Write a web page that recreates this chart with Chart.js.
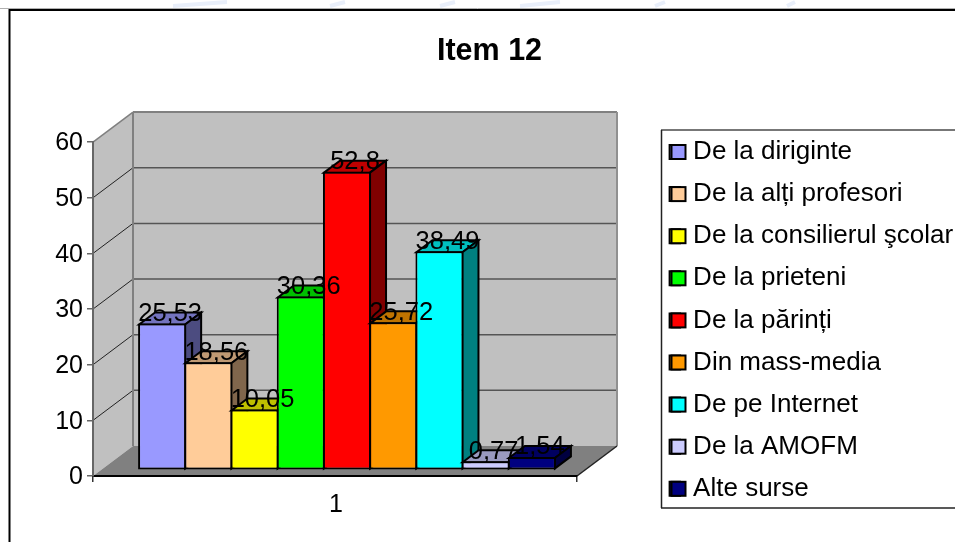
<!DOCTYPE html>
<html>
<head>
<meta charset="utf-8">
<title>Item 12</title>
<script src="https://cdn.jsdelivr.net/npm/chart.js@4"></script>
<style>
    html, body { margin: 0; padding: 0; background: #fff; overflow: hidden; }
    canvas { display: block; }
</style>
</head>
<body>
<canvas id="chart-item12" width="955" height="542"></canvas>
<script>
'use strict';

var categories = ['1'];
var seriesNames = ['De la diriginte', 'De la alți profesori', 'De la consilierul şcolar', 'De la prieteni',
    'De la părinți', 'Din mass-media', 'De pe Internet', 'De la AMOFM', 'Alte surse'];
var seriesValues = [25.53, 18.56, 10.05, 30.36, 52.8, 25.72, 38.49, 0.77, 1.54];
var frontColors = ['#9999FF', '#FFCC99', '#FFFF00', '#00FF00', '#FF0000', '#FF9900', '#00FFFF', '#CCCCFF', '#000080'];
var topColors = ['#7373BF', '#BF9973', '#BFBF00', '#00BF00', '#BF0000', '#BF7300', '#00BFBF', '#9999BF', '#000060'];
var sideColors = ['#4C4C80', '#80664C', '#808000', '#008000', '#800000', '#804C00', '#008080', '#666680', '#000040'];

var FONT = '"Liberation Sans", Arial, sans-serif';
var WALL_DX = 40, WALL_DY = -30;   // front plane to back wall
var BAR_DX = 12, BAR_DY = -10.5;   // front plane to the front of the bars
var DEPTH_DX = 16, DEPTH_DY = -12; // depth of one bar
var LEGEND_TOP = 122.9, LEGEND_FONT = 26, LEGEND_GAP = 16.1;

function polygon(ctx, pts, fill, stroke, width) {
    ctx.beginPath();
    ctx.moveTo(pts[0][0], pts[0][1]);
    for (var i = 1; i < pts.length; i++) {
        ctx.lineTo(pts[i][0], pts[i][1]);
    }
    ctx.closePath();
    if (fill) {
        ctx.fillStyle = fill;
        ctx.fill();
    }
    if (stroke) {
        ctx.strokeStyle = stroke;
        ctx.lineWidth = width;
        ctx.stroke();
    }
}

function line(ctx, x1, y1, x2, y2, color, width) {
    ctx.beginPath();
    ctx.moveTo(x1, y1);
    ctx.lineTo(x2, y2);
    ctx.strokeStyle = color;
    ctx.lineWidth = width;
    ctx.stroke();
}

var box3d = {
    id: 'box3d',
    afterLayout: function (chart) {
        // legend sits half outside the picture, title is centred over the plot and legend gap
        var legend = chart.legend;
        legend.left = 653.5;
        legend.right = 1200;
        legend.top = LEGEND_TOP;
        legend.bottom = 530;
        chart.titleBlock.left = 0;
        chart.titleBlock.right = 979;
    },
    beforeDraw: function (chart) {
        var ctx = chart.ctx, a = chart.chartArea, y = chart.scales.y;
        ctx.save();

        // faint marks of the page behind the chart, above its frame
        [[173, 227], [330, 345], [440, 455], [520, 560], [655, 665], [787, 795]].forEach(function (m) {
            line(ctx, m[0], 6, m[1], 2, '#e9effa', 4);
        });

        // chart frame
        line(ctx, 0, 8.5, 955, 8.5, '#b0b0b0', 1);
        ctx.strokeStyle = '#000';
        ctx.lineWidth = 2;
        ctx.strokeRect(9.5, 10, 1000, 600);

        // walls and floor
        polygon(ctx, [[a.left, a.top], [a.left + WALL_DX, a.top + WALL_DY],
            [a.left + WALL_DX, a.bottom + WALL_DY], [a.left, a.bottom]], '#C0C0C0');
        polygon(ctx, [[a.left + WALL_DX, a.top + WALL_DY], [a.right + WALL_DX, a.top + WALL_DY],
            [a.right + WALL_DX, a.bottom + WALL_DY], [a.left + WALL_DX, a.bottom + WALL_DY]], '#C0C0C0');
        polygon(ctx, [[a.left, a.bottom], [a.left + WALL_DX, a.bottom + WALL_DY],
            [a.right + WALL_DX, a.bottom + WALL_DY], [a.right, a.bottom]], '#808080');

        y.ticks.forEach(function (t) {
            var py = y.getPixelForValue(t.value);
            if (t.value > 0 && t.value < 60) {
                line(ctx, a.left, py, a.left + WALL_DX, py + WALL_DY, '#222', 1);
                line(ctx, a.left + WALL_DX, py + WALL_DY, a.right + WALL_DX, py + WALL_DY, '#555', 1.5);
            }
        });
        line(ctx, a.left, a.top, a.left + WALL_DX, a.top + WALL_DY, '#808080', 1.5);
        line(ctx, a.left + WALL_DX, a.top + WALL_DY, a.right + WALL_DX, a.top + WALL_DY, '#808080', 2);
        line(ctx, a.left + WALL_DX, a.top + WALL_DY, a.left + WALL_DX, a.bottom + WALL_DY, '#808080', 2);
        line(ctx, a.right + WALL_DX, a.top + WALL_DY, a.right + WALL_DX, a.bottom + WALL_DY, '#909090', 2);
        line(ctx, a.right, a.bottom, a.right + WALL_DX, a.bottom + WALL_DY, '#222', 1.5);

        // legend box
        line(ctx, 661, 130, 960, 130, '#777', 2);
        line(ctx, 661.5, 130, 661.5, 508, '#222', 1.5);
        line(ctx, 661, 508, 960, 508, '#222', 1.5);

        ctx.restore();
    },
    beforeDatasetDraw: function () {
        // bars go in afterDatasetsDraw, left to right, so each one covers its neighbour's side
        return false;
    },
    afterDatasetsDraw: function (chart) {
        var ctx = chart.ctx;
        ctx.save();
        ctx.translate(BAR_DX, BAR_DY);
        ctx.lineJoin = 'miter';
        chart.data.datasets.forEach(function (ds, i) {
            var el = chart.getDatasetMeta(i).data[0];
            var p = el.getProps(['x', 'y', 'base', 'width'], true);
            var l = p.x - p.width / 2 + 1, r = p.x + p.width / 2 - 1;
            polygon(ctx, [[l, p.y + 1], [l + DEPTH_DX, p.y + 1 + DEPTH_DY], [r + DEPTH_DX, p.y + 1 + DEPTH_DY], [r, p.y + 1]],
                topColors[i], '#000', 2);
            polygon(ctx, [[r, p.y + 1], [r + DEPTH_DX, p.y + 1 + DEPTH_DY], [r + DEPTH_DX, p.base - 1 + DEPTH_DY], [r, p.base - 1]],
                sideColors[i], '#000', 2);
            el.draw(ctx);
        });

        // value labels go over all the bars
        ctx.fillStyle = '#000';
        ctx.font = '25.5px ' + FONT;
        ctx.textAlign = 'center';
        ctx.textBaseline = 'alphabetic';
        chart.data.datasets.forEach(function (ds, i) {
            var el = chart.getDatasetMeta(i).data[0];
            var p = el.getProps(['x', 'y'], true);
            ctx.fillText(String(ds.data[0]).replace('.', ','), p.x + DEPTH_DX / 2, p.y - 2.7);
        });
        ctx.restore();
    },
    afterDraw: function (chart) {
        // the legend's own gap after the box is half its font size, too wide here,
        // so its box is narrow and the full size swatch goes on top
        var ctx = chart.ctx;
        ctx.save();
        frontColors.forEach(function (color, i) {
            var cy = LEGEND_TOP + LEGEND_GAP + LEGEND_FONT / 2 + i * (LEGEND_FONT + LEGEND_GAP);
            ctx.fillStyle = color;
            ctx.strokeStyle = '#000';
            ctx.lineWidth = 2;
            ctx.fillRect(671.5, cy - 7, 14, 14);
            ctx.strokeRect(671.5, cy - 7, 14, 14);
        });
        ctx.restore();
    }
};

var datasets = seriesNames.map(function (name, i) {
    return {
        label: name,
        data: [seriesValues[i]],
        base: -0.7,
        backgroundColor: frontColors[i],
        borderColor: '#000',
        borderWidth: 2,
        borderSkipped: false,
        inflateAmount: 0
    };
});

new Chart(document.getElementById('chart-item12'), {
    type: 'bar',
    data: { labels: categories, datasets: datasets },
    plugins: [box3d],
    options: {
        responsive: false,
        animation: false,
        layout: { padding: { left: 0, right: 178, top: 0, bottom: 0 } },
        categoryPercentage: 0.8595,
        barPercentage: 1.04,
        scales: {
            x: {
                grid: { drawOnChartArea: false, drawTicks: true, tickLength: 6, color: '#333', lineWidth: 1.5 },
                border: { color: '#000', width: 2 },
                ticks: { color: '#000', font: { family: FONT, size: 25 }, padding: 8, labelOffset: 1 },
                afterFit: function (scale) { scale.height = 66; }
            },
            y: {
                min: 0,
                max: 60,
                grid: { drawOnChartArea: false, drawTicks: true, tickLength: 6, color: '#666', lineWidth: 1.5 },
                border: { color: '#666', width: 2 },
                ticks: { stepSize: 10, color: '#000', font: { family: FONT, size: 25 }, padding: 4, labelOffset: 1.5 },
                afterFit: function (scale) { scale.width = 93; }
            }
        },
        plugins: {
            title: {
                display: true,
                text: 'Item 12',
                color: '#000',
                font: { family: FONT, size: 30.5, weight: 'bold' },
                padding: { top: 33.5, bottom: 72 }
            },
            legend: {
                position: 'right',
                align: 'start',
                maxWidth: 200,
                labels: {
                    color: '#000',
                    font: { family: FONT, size: LEGEND_FONT },
                    boxWidth: 10.5,
                    boxHeight: 14,
                    padding: LEGEND_GAP
                }
            },
            tooltip: { enabled: false }
        }
    }
});
</script>
</body>
</html>
